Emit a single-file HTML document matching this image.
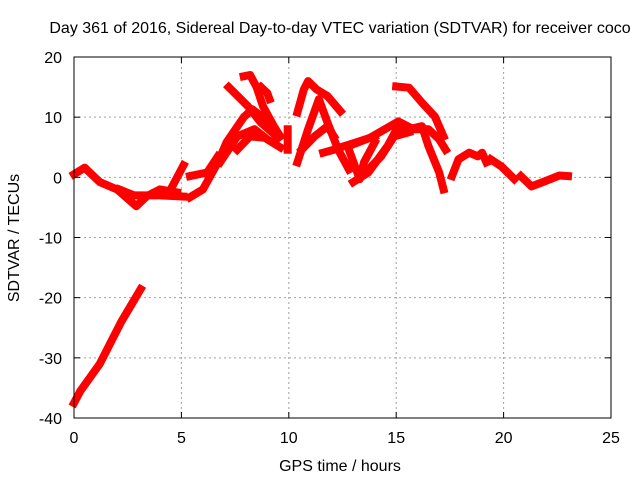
<!DOCTYPE html>
<html><head><meta charset="utf-8"><style>
body{margin:0;background:#fff}
svg{font-family:"Liberation Sans",sans-serif;font-size:16px}
</style></head><body>
<svg id="chart" width="640" height="480">
<rect width="640" height="480" fill="#fff"/>
<text x="340" y="33" text-anchor="middle">Day 361 of 2016, Sidereal Day-to-day VTEC variation (SDTVAR) for receiver coco</text>
<text x="340" y="471" text-anchor="middle">GPS time / hours</text>
<text transform="translate(19,238) rotate(-90)" text-anchor="middle">SDTVAR / TECUs</text>
<g id="grid"></g><g id="series"></g>
<rect x="74" y="57" width="537" height="361" fill="none" stroke="#000"/>
<g id="ticks"></g>
</svg>
<script>
const xTicks=[0,5,10,15,20,25];
const yTicks=[20,10,0,-10,-20,-30,-40];
const s1x=[0,0.5,1.2,2,2.9,3.4,4,4.8];
const s1y=[0.5,1.6,-0.8,-2,-4.8,-3.1,-2,-2.5];
const s2x=[2.1,2.8,4,5.1];
const s2y=[-2,-3,-3,-3.2];
const s3x=[4.5,5.1];
const s3y=[-2,2];
const s4x=[5.4,6.2,6.7];
const s4y=[0.2,0.8,3.5];
const s5x=[5.4,6,6.7,7.1,7.9,8.3,9.3,9.6];
const s5y=[-3.3,-2,2.5,5.8,10,11.3,8.5,6.8];
const s6x=[6.8,7.6,8.4,9,9.6];
const s6y=[2.5,6.8,8,6.3,5];
const s7x=[7.6,8.2,8.8];
const s7y=[4.6,6.8,6.6];
const s8x=[7.2,8.1,8.7,9.5];
const s8y=[15,11.8,9.1,6.6];
const s9x=[7.9,8.2,8.5,8.8,9.3];
const s9y=[16.8,17,15,11.8,8.5];
const s10x=[8.7,9,9.1];
const s10y=[15,14,13];
const s11x=[9.95,9.95];
const s11y=[8,4.6];
const s12x=[10.4,10.7,10.9,11.3,11.8,12.4];
const s12y=[10.8,14.6,16,14.6,13.5,11];
const s13x=[10.4,10.9,11.4,11.8,12.3,12.8];
const s13y=[2.5,8,13,9.1,4.6,1.3];
const s14x=[10.6,11.2,11.8,12.1];
const s14y=[4.6,6.8,8.5,6.8];
const s15x=[11.6,12.1];
const s15y=[4.1,4.6];
const s16x=[12.8,13.8,15.1,15.8,16.5,17,17.3];
const s16y=[5.2,6.6,9.3,8,8,6.3,4.6];
const s17x=[13,13.7,14.6,15.1,15.6,16.2,16.5,17,17.2];
const s17y=[-0.8,0.8,5.2,8.5,8,8.5,5.2,0.8,-2];
const s18x=[13.4,14.3,14.9,15.6];
const s18y=[0.2,3.5,6.8,7.5];
const s19x=[15,15.6,16.2,16.8,17.2];
const s19y=[15.1,14.9,12.4,10.1,6.8];
const s20x=[12.8,13.3,13.5,14];
const s20y=[4.6,-0.3,2.5,5.8];
const s21x=[12.6,14];
const s21y=[5.2,6.8];
const s22x=[17.6,17.9,18.4,18.8,19,19.2];
const s22y=[0.2,3,4.1,3.5,4.1,2.5];
const s23x=[19.4,19.9,20.5];
const s23y=[3,1.8,-0.3];
const s24x=[20.8,21.3,21.9,22.6,23];
const s24y=[0.2,-1.5,-0.7,0.3,0.2];
const s25x=[0,0.3,0.7,1.2,1.7,2.2,2.7,3.1];
const s25y=[-37.5,-35.5,-33.5,-31,-27.5,-24,-21,-18.6];
const seriesX=[s1x,s2x,s3x,s4x,s5x,s6x,s7x,s8x,s9x,s10x,s11x,s12x,s13x,s14x,s15x,s16x,s17x,s18x,s19x,s20x,s21x,s22x,s23x,s24x,s25x];
const seriesY=[s1y,s2y,s3y,s4y,s5y,s6y,s7y,s8y,s9y,s10y,s11y,s12y,s13y,s14y,s15y,s16y,s17y,s18y,s19y,s20y,s21y,s22y,s23y,s24y,s25y];
const NS="http://www.w3.org/2000/svg";
function sx(v){return 74+(v-0)/25*537;}
function sy(v){return 57+(20-v)/60*361;}
const grid=document.getElementById('grid'),ticks=document.getElementById('ticks'),ser=document.getElementById('series');
function mk(t,a,p){const e=document.createElementNS(NS,t);for(const k in a)e.setAttribute(k,a[k]);p.appendChild(e);return e;}
xTicks.forEach(v=>{const x=sx(v);
 if(v>0&&v<25){const g=mk('line',{x1:x,x2:x,y1:57,y2:418,stroke:'#a0a0a0','stroke-dasharray':'2,3'},grid);
 
 }
 mk('line',{x1:x,x2:x,y1:418,y2:412,stroke:'#000'},ticks);mk('line',{x1:x,x2:x,y1:57,y2:63,stroke:'#000'},ticks);
 const t=mk('text',{x:x,y:443,'text-anchor':'middle'},ticks);t.textContent=v;
 
 });
yTicks.forEach(v=>{const y=sy(v);
 if(v<20&&v>-40){const g=mk('line',{x1:74,x2:611,y1:y,y2:y,stroke:'#a0a0a0','stroke-dasharray':'2,3'},grid);
 
 }
 mk('line',{x1:74,x2:80,y1:y,y2:y,stroke:'#000'},ticks);mk('line',{x1:611,x2:605,y1:y,y2:y,stroke:'#000'},ticks);
 const t=mk('text',{x:62,y:y+6,'text-anchor':'end'},ticks);t.textContent=v;
 
 });
seriesX.forEach((xs,i)=>{const ys=seriesY[i];
 const pts=xs.map((x,j)=>sx(x).toFixed(1)+','+sy(ys[j]).toFixed(1)).join(' ');
 const p=mk('polyline',{points:pts,fill:'none',stroke:'#ff0000','stroke-width':8,'stroke-linejoin':'round','stroke-linecap':'square'},ser);
 
 });
</script>
</body></html>
